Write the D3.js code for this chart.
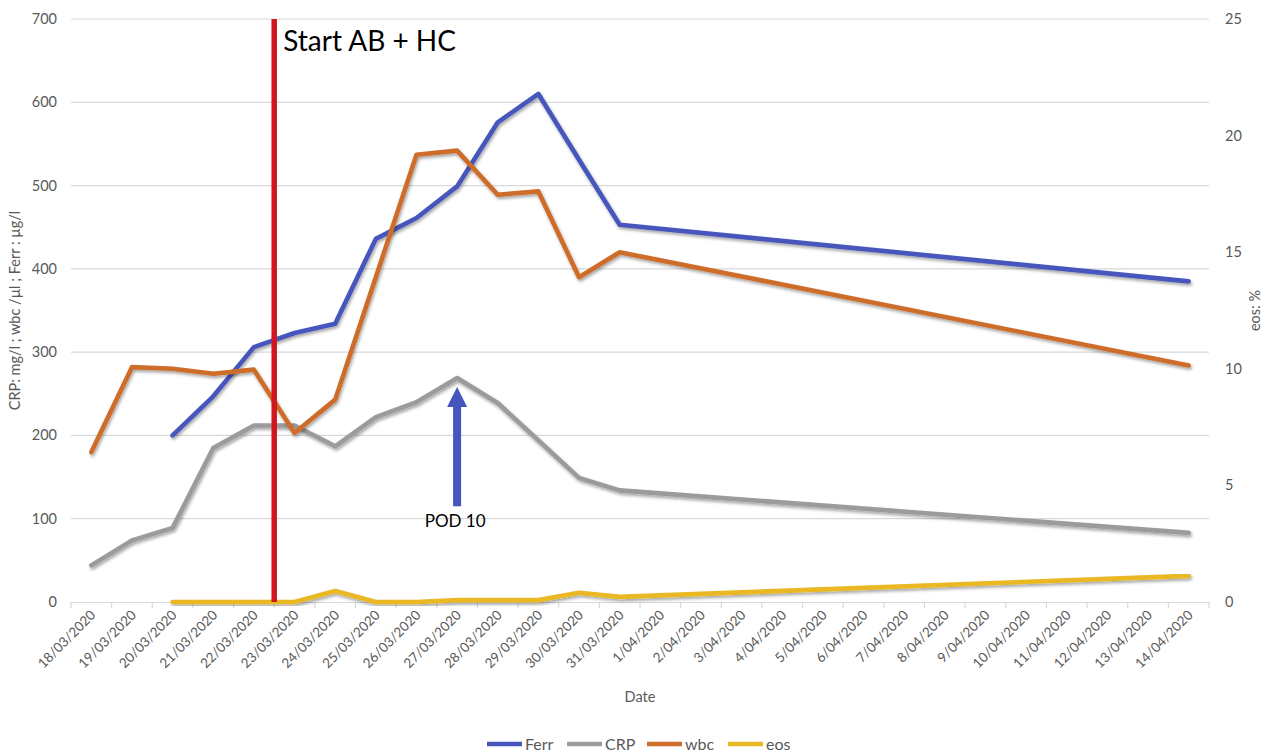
<!DOCTYPE html>
<html>
<head>
<meta charset="utf-8">
<script src="https://cdn.jsdelivr.net/npm/d3@7"></script>
<style>
  html, body { margin: 0; padding: 0; background: #fff; }
  svg { display: block; font-family: Lato, "Open Sans", "Liberation Sans", sans-serif; }
</style>
</head>
<body>
<svg id="chart" width="1268" height="752"></svg>
<script>
// Sampling dates (category axis)
const dates = [
  "18/03/2020","19/03/2020","20/03/2020","21/03/2020","22/03/2020","23/03/2020",
  "24/03/2020","25/03/2020","26/03/2020","27/03/2020","28/03/2020","29/03/2020",
  "30/03/2020","31/03/2020","1/04/2020","2/04/2020","3/04/2020","4/04/2020",
  "5/04/2020","6/04/2020","7/04/2020","8/04/2020","9/04/2020","10/04/2020",
  "11/04/2020","12/04/2020","13/04/2020","14/04/2020"
];

// Lab values per date (null = not measured)
const ferr = [null,null,200,247,306,323,334,436,461,499,576,610,531,453,
  null,null,null,null,null,null,null,null,null,null,null,null,null,385];
const crp  = [44,74,89,185,212,212,187,222,240,269,239,194,149,134,
  null,null,null,null,null,null,null,null,null,null,null,null,null,83];
const wbc  = [180,282,280,274,279,203,243,390,537,542,489,493,390,420,
  null,null,null,null,null,null,null,null,null,null,null,null,null,284];
const eos  = [null,null,0,0,0,0,0.47,0,0,0.08,0.08,0.08,0.4,0.22,
  null,null,null,null,null,null,null,null,null,null,null,null,null,1.12];

const leftTicks = [0,100,200,300,400,500,600,700];
const rightTicks = [0,5,10,15,20,25];

const series = [
  { name: "Ferr", values: ferr, color: "#4756BC", axis: "left" },
  { name: "CRP",  values: crp,  color: "#9B9B9B", axis: "left" },
  { name: "wbc",  values: wbc,  color: "#CE6C2A", axis: "left" },
  { name: "eos",  values: eos,  color: "#E9B824", axis: "right" }
];

const svg = d3.select("#chart");
const plot = { left: 71, right: 1209, top: 19, bottom: 602 };

const x = d3.scaleBand().domain(dates).range([plot.left, plot.right]);
const cx = d => x(d) + x.bandwidth() / 2;
const yL = d3.scaleLinear().domain([0, 700]).range([plot.bottom, plot.top]);
const yR = d3.scaleLinear().domain([0, 25]).range([plot.bottom, plot.top]);

// soft drop shadow under the series lines
const defs = svg.append("defs");
const f = defs.append("filter").attr("id", "shadow")
  .attr("x", "-5%").attr("y", "-5%").attr("width", "110%").attr("height", "120%");
f.append("feDropShadow").attr("dx", 1.2).attr("dy", 2.2)
  .attr("stdDeviation", 1.4).attr("flood-color", "#000").attr("flood-opacity", 0.35);

// horizontal gridlines
svg.append("g").selectAll("line").data(leftTicks.filter(t => t > 0)).join("line")
  .attr("x1", plot.left).attr("x2", plot.right)
  .attr("y1", d => yL(d)).attr("y2", d => yL(d))
  .attr("stroke", "#d9d9d9").attr("stroke-width", 1.2);

// left axis labels
svg.append("g").selectAll("text").data(leftTicks).join("text")
  .attr("x", 57).attr("y", d => yL(d) + 5)
  .attr("text-anchor", "end").attr("font-size", 14.5).attr("fill", "#595959")
  .text(d => d);

// right axis labels
svg.append("g").selectAll("text").data(rightTicks).join("text")
  .attr("x", 1225).attr("y", d => yR(d) + 5)
  .attr("text-anchor", "start").attr("font-size", 14.5).attr("fill", "#595959")
  .text(d => d);

// category axis
const xAxis = d3.axisBottom(x).tickSize(0).tickFormat("");
const gx = svg.append("g").attr("transform", `translate(0,${plot.bottom})`).call(xAxis);
gx.select(".domain").attr("stroke", "#d9d9d9").attr("stroke-width", 1.2);
const bounds = dates.map(d => x(d)).concat([x(dates[dates.length - 1]) + x.bandwidth()]);
gx.selectAll(".bound").data(bounds).join("line").attr("class", "bound")
  .attr("x1", d => d).attr("x2", d => d).attr("y1", 0).attr("y2", 6)
  .attr("stroke", "#d9d9d9").attr("stroke-width", 1.2);

svg.append("g").selectAll("text").data(dates).join("text")
  .attr("transform", d => `translate(${cx(d) + 5},${plot.bottom + 14}) rotate(-45)`)
  .attr("text-anchor", "end").attr("font-size", 13.5).attr("fill", "#595959")
  .text(d => d);

// axis titles
svg.append("text").attr("x", 640).attr("y", 702).attr("text-anchor", "middle")
  .attr("font-size", 14.5).attr("fill", "#595959").text("Date");
svg.append("text")
  .attr("transform", `translate(20,${(plot.top + plot.bottom) / 2}) rotate(-90)`)
  .attr("text-anchor", "middle").attr("font-size", 14.5).attr("fill", "#595959")
  .text("CRP: mg/l ; wbc /µl ; Ferr : µg/l");
svg.append("text")
  .attr("transform", `translate(1260,${(plot.top + plot.bottom) / 2}) rotate(-90)`)
  .attr("text-anchor", "middle").attr("font-size", 14.5).attr("fill", "#595959")
  .text("eos: %");

// series lines (gaps bridged by joining the measured points)
const lines = svg.append("g");
series.forEach(s => {
  const y = s.axis === "left" ? yL : yR;
  const pts = dates.map((d, i) => ({ d, v: s.values[i] })).filter(p => p.v !== null);
  const gen = d3.line().x(p => cx(p.d)).y(p => y(p.v));
  lines.append("path").datum(pts)
    .attr("d", gen).attr("fill", "none")
    .attr("stroke", s.color).attr("stroke-width", 4.6)
    .attr("stroke-linejoin", "round").attr("stroke-linecap", "round")
    .attr("filter", "url(#shadow)");
});

// treatment start marker
const startX = x("23/03/2020");
svg.append("line")
  .attr("x1", startX).attr("x2", startX)
  .attr("y1", plot.top).attr("y2", plot.bottom)
  .attr("stroke", "#D0161E").attr("stroke-width", 5.5);
svg.append("text").attr("x", startX + 9).attr("y", 51)
  .attr("font-size", 28).attr("fill", "#000").text("Start AB + HC");

// POD 10 arrow pointing at the CRP peak
const podX = cx("27/03/2020");
const tipY = yL(258), headY = yL(234), baseY = yL(115);
svg.append("line").attr("x1", podX).attr("x2", podX)
  .attr("y1", baseY).attr("y2", headY)
  .attr("stroke", "#4756BC").attr("stroke-width", 8);
svg.append("path")
  .attr("d", `M${podX - 10},${headY} L${podX},${tipY} L${podX + 10},${headY} Z`)
  .attr("fill", "#4756BC");
svg.append("text").attr("x", podX - 2).attr("y", yL(90))
  .attr("text-anchor", "middle").attr("font-size", 17).attr("fill", "#000")
  .text("POD 10");

// legend
const legendItems = [
  { name: "Ferr", color: "#4756BC", x: 487 },
  { name: "CRP",  color: "#9B9B9B", x: 567 },
  { name: "wbc",  color: "#CE6C2A", x: 647 },
  { name: "eos",  color: "#E9B824", x: 728 }
];
const lg = svg.append("g").selectAll("g").data(legendItems).join("g")
  .attr("transform", d => `translate(${d.x},744)`);
lg.append("line").attr("x1", 0).attr("x2", 35).attr("y1", 0).attr("y2", 0)
  .attr("stroke", d => d.color).attr("stroke-width", 4.5).attr("stroke-linecap", "butt");
lg.append("text").attr("x", 38).attr("y", 6).attr("font-size", 16).attr("fill", "#595959")
  .text(d => d.name);
</script>
</body>
</html>
